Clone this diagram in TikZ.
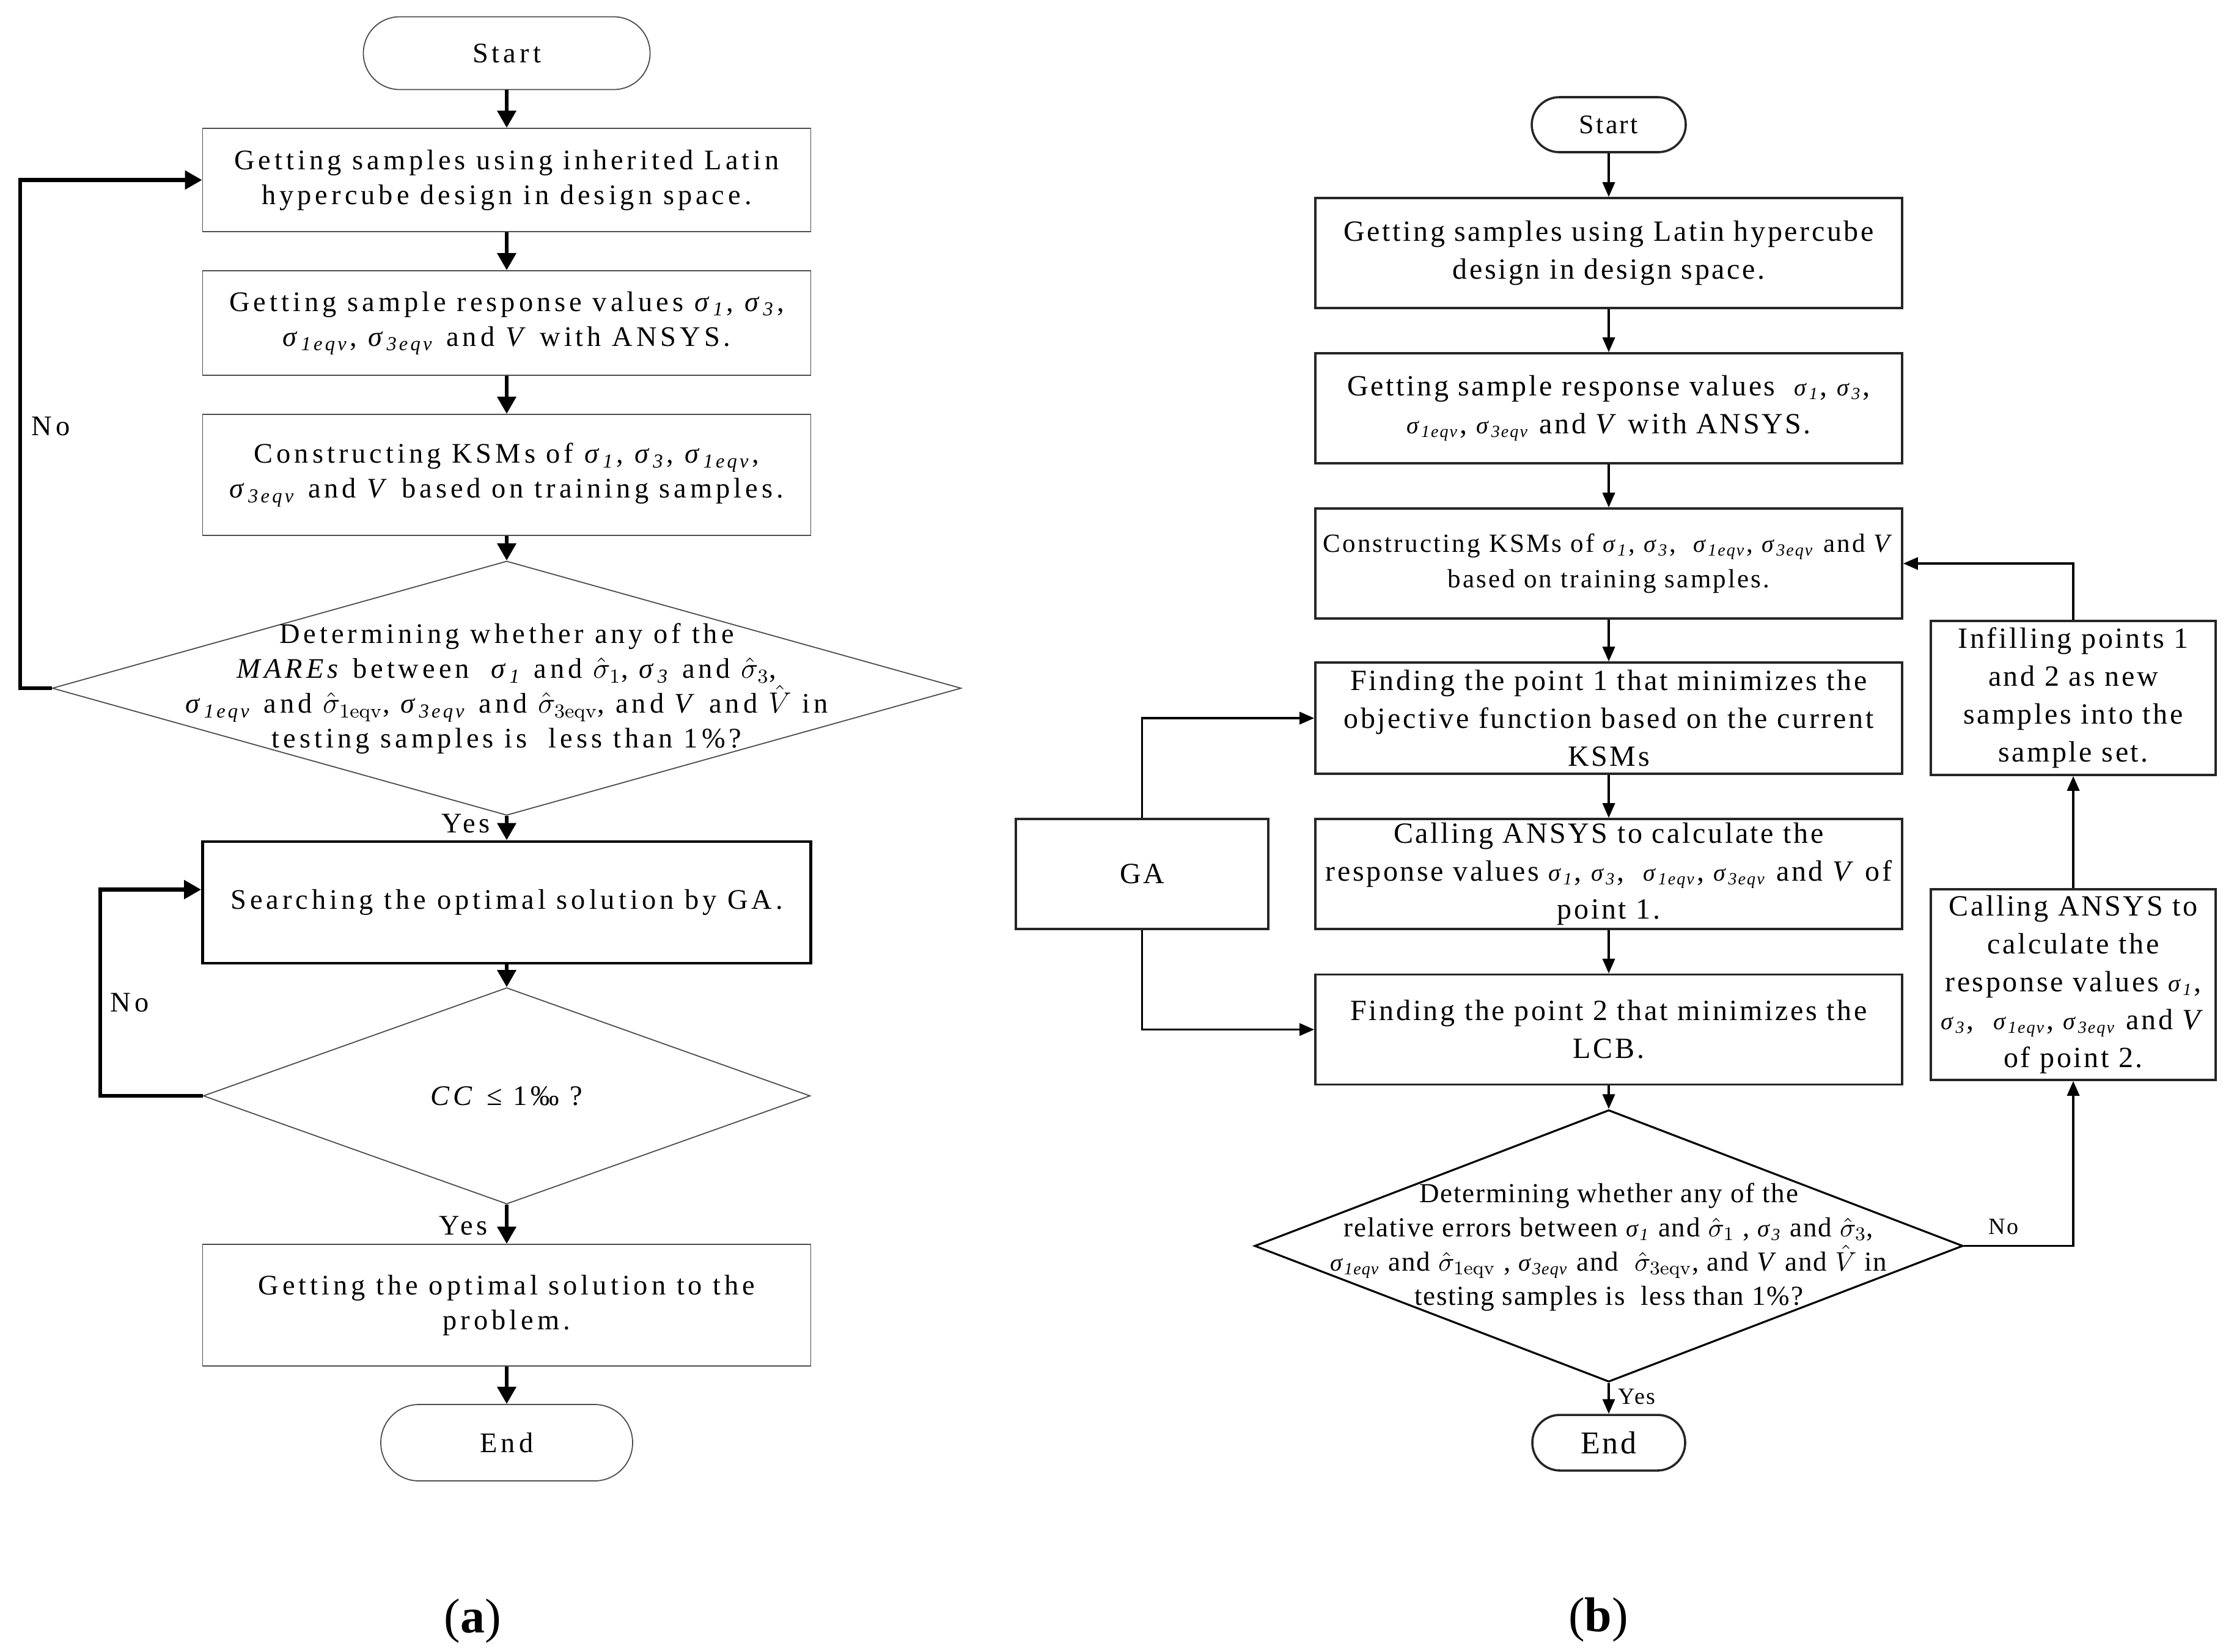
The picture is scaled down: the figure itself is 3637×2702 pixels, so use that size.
\documentclass[tikz,border=0pt]{standalone}
\usepackage{fontspec}
\usetikzlibrary{arrows.meta,shapes.geometric,calc}
\newfontfamily\afont[LetterSpace=13]{Liberation Serif}
\newfontfamily\bfont[LetterSpace=7.5]{Liberation Serif}
\newfontfamily\dfont[LetterSpace=4]{Liberation Serif}
\newfontfamily\lfont{Liberation Serif}
\newcommand\sg[1]{\textit{σ}\textsubscript{\textit{#1}}}
\newcommand\ssg[1]{{\fontsize{10pt}{12pt}\selectfont\textit{σ}\textsubscript{\textit{#1}}}}
\newcommand\hsg[1]{$\hat{\sigma}_{\mathrm{#1}}$}
\begin{document}
\begin{tikzpicture}[x=0.25pt,y=-0.25pt,
  fa/.style={font=\afont\fontsize{11.6pt}{14.25pt}\selectfont},
  fb/.style={font=\bfont\fontsize{12pt}{15.5pt}\selectfont},
  fd/.style={font=\dfont\fontsize{11.25pt}{14pt}\selectfont},
  boxA/.style={draw=black!70, line width=0.45pt, fa, align=center, minimum width=248.75pt, inner sep=0pt},
  termA/.style={draw=black!70, line width=0.45pt, fa, rounded corners=14.8pt, minimum width=117.25pt, minimum height=29.75pt, inner sep=0pt},
  diamA/.style={draw=black!70, line width=0.45pt, diamond, inner sep=0pt},
  txtA/.style={fa, align=center, inner sep=0pt},
  boxB/.style={draw=black!85, line width=0.9pt, fb, align=center, minimum width=240pt, minimum height=45pt, inner sep=0pt},
  sideB/.style={draw=black!85, line width=0.9pt, fb, align=center, minimum width=116.5pt, inner sep=0pt},
  termB/.style={draw=black!85, line width=0.9pt, rounded corners=11.3pt, minimum width=63pt, minimum height=22.5pt, inner sep=0pt},
  diamB/.style={draw=black, line width=0.8pt, diamond, inner sep=0pt},
  txtB/.style={fd, align=center, inner sep=0pt},
  arrA/.style={line width=1.6pt, -{Triangle[length=7pt,width=7.5pt]}},
  arrB/.style={line width=0.9pt, -{Triangle[length=6pt,width=5pt]}},
  labB/.style={font=\bfont\fontsize{9.5pt}{11pt}\selectfont, inner sep=0pt},
  panelcap/.style={font=\lfont\fontsize{20pt}{24pt}\selectfont, inner sep=0pt}]
\useasboundingbox (0,0) rectangle (3637,2702);

% ---------------- panel (a) ----------------
\node[termA] (startA) at (829,87) {Start};
\node[boxA, minimum height=42.25pt] (A1) at (829,294.5) {Getting samples using inherited Latin\\hypercube design in design space.};
\node[boxA, minimum height=42.75pt] (A2) at (829,528.5) {Getting sample response values \sg{1}, \sg{3},\\\sg{1eqv}, \sg{3eqv} and \textit{V} with ANSYS.};
\node[boxA, minimum height=49.5pt] (A3) at (829,777) {Constructing KSMs of \sg{1}, \sg{3}, \sg{1eqv},\\\sg{3eqv} and \textit{V} based on training samples.};
\node[diamA, minimum width=371.75pt, minimum height=104pt] (DA) at (829,1126) {};
\node[txtA] (DAt) at (829,1127) {Determining whether any of the\\\textit{MAREs} between~ \sg{1} and \hsg{1}, \sg{3} and \hsg{3},\\\sg{1eqv} and \hsg{1eqv}, \sg{3eqv} and \hsg{3eqv}, and \textit{V} and $\hat{V}$ in\\testing samples is~ less than 1\%?};
\node[boxA, draw=black, line width=1.2pt, minimum height=49.75pt] (A4) at (829,1476.5) {Searching the optimal solution by GA.};
\node[diamA, minimum width=248.25pt, minimum height=88.5pt] (DA2) at (829,1793) {};
\node[txtA] (DA2t) at (829,1793) {\textit{CC} ≤ 1‰ ?};
\node[boxA, minimum height=49.75pt] (A5) at (829,2135.5) {Getting the optimal solution to the\\problem.};
\node[termA, minimum width=103pt, minimum height=31.25pt, rounded corners=15.6pt] (endA) at (829,2360.5) {End};

\draw[arrA] (startA) -- (A1);
\draw[arrA] (A1) -- (A2);
\draw[arrA] (A2) -- (A3);
\draw[arrA] (A3) -- (DA.north);
\draw[arrA] (DA.south) -- (A4);
\draw[arrA] (A4) -- (DA2.north);
\draw[arrA] (DA2.south) -- (A5);
\draw[arrA] (A5) -- (endA);
\draw[arrA] (DA.west) -- (33,1126) |- (A1.west);
\coordinate (A4in) at ($(A4.west)+(0,-21)$);
\draw[arrA] (DA2.west) -- (164,1793) |- (A4in);

\node[txtA] (noA1) at (83,698) {No};
\node[txtA] (noA2) at (212,1640) {No};
\node[txtA] (yesA1) at (762,1347) {Yes};
\node[txtA] (yesA2) at (758,2005) {Yes};
\node[panelcap] (capA) at (773,2652) {(\textbf{a})};

% ---------------- panel (b) ----------------
\node[termB, font=\bfont\fontsize{11pt}{13pt}\selectfont] (startB) at (2632,204) {Start};
\node[boxB] (B1) at (2632,414) {Getting samples using Latin hypercube\\design in design space.};
\node[boxB] (B2) at (2632,668) {Getting sample response values~ \ssg{1}, \ssg{3},\\\ssg{1eqv}, \ssg{3eqv} and \textit{V} with ANSYS.};
\node[boxB, font=\bfont\fontsize{10.75pt}{14.5pt}\selectfont] (B3) at (2632,922) {Constructing KSMs of \ssg{1}, \ssg{3},~ \ssg{1eqv}, \ssg{3eqv} and \textit{V}\\based on training samples.};
\node[boxB, minimum height=45.5pt] (B4) at (2632,1175) {Finding the point 1 that minimizes the\\objective function based on the current\\KSMs};
\node[boxB] (B5) at (2632,1430) {Calling ANSYS to calculate the\\response values \ssg{1}, \ssg{3},~ \ssg{1eqv}, \ssg{3eqv} and \textit{V} of\\point 1.};
\node[boxB] (B6) at (2632,1684.5) {Finding the point 2 that minimizes the\\LCB.};
\node[diamB, minimum width=289.75pt, minimum height=111.25pt] (DB) at (2632,2038.5) {};
\node[txtB] (DBt) at (2632,2040) {Determining whether any of the\\relative errors between \ssg{1} and \hsg{1} , \ssg{3} and \hsg{3},\\\ssg{1eqv} and \hsg{1eqv} , \ssg{3eqv} and~ \hsg{3eqv}, and \textit{V} and $\hat{V}$ in\\testing samples is~ less than 1\%?};
\node[termB, font=\bfont\fontsize{13pt}{15pt}\selectfont, minimum width=62.5pt, minimum height=22.75pt] (endB) at (2632,2360.5) {End};
\node[boxB, minimum width=103.25pt] (GA) at (1868.5,1430) {GA};
\node[sideB, minimum height=63pt] (Inf) at (3392,1142) {Infilling points 1\\and 2 as new\\samples into the\\sample set.};
\node[sideB, minimum height=78pt] (C2) at (3392,1611) {Calling ANSYS to\\calculate the\\response values \ssg{1},\\\ssg{3},~ \ssg{1eqv}, \ssg{3eqv} and \textit{V}\\of point 2.};

\draw[arrB] (startB) -- (B1);
\draw[arrB] (B1) -- (B2);
\draw[arrB] (B2) -- (B3);
\draw[arrB] (B3) -- (B4);
\draw[arrB] (B4) -- (B5);
\draw[arrB] (B5) -- (B6);
\draw[arrB] (B6) -- (DB.north);
\draw[arrB] (DB.south) -- (endB);
\draw[arrB] (GA.north) |- (B4.west);
\draw[arrB] (GA.south) |- (B6.west);
\draw[arrB] (DB.east) -| (C2.south);
\draw[arrB] (C2.north) -- (Inf.south);
\draw[arrB] (Inf.north) |- (B3.east);

\node[labB] (noB) at (3278,2007) {No};
\node[labB] (yesB) at (2678,2285) {Yes};
\node[panelcap] (capB) at (2615,2650) {(\textbf{b})};
\end{tikzpicture}
\end{document}
